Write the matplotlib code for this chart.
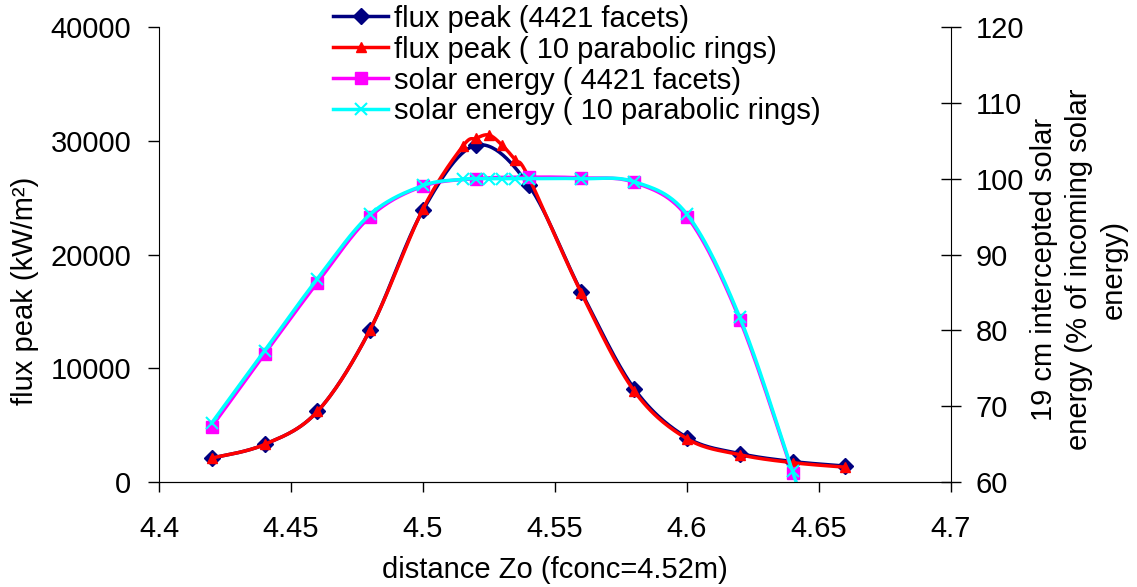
import numpy as np
import matplotlib.pyplot as plt
from matplotlib.lines import Line2D

# flux peak, kW/m2
x_facets = [4.42, 4.44, 4.46, 4.48, 4.50, 4.52, 4.54, 4.56, 4.58, 4.60, 4.62, 4.64, 4.66]
flux_facets = [2100, 3300, 6200, 13400, 23900, 29600, 26100, 16700, 8200, 3900, 2500, 1800, 1400]

x_rings = [4.42, 4.44, 4.46, 4.48, 4.50, 4.515, 4.52, 4.525, 4.53, 4.535, 4.54, 4.56, 4.58, 4.60, 4.62, 4.64, 4.66]
flux_rings = [2100, 3300, 6200, 13400, 24000, 29500, 30200, 30500, 29600, 28300, 26800, 16600, 8000, 3800, 2400, 1700, 1300]

# intercepted solar energy, %
x_sol_facets = [4.42, 4.44, 4.46, 4.48, 4.50, 4.52, 4.54, 4.56, 4.58, 4.60, 4.62, 4.64]
sol_facets = [67.3, 76.9, 86.3, 95.0, 99.0, 100.0, 100.2, 100.1, 99.5, 95.0, 81.4, 61.2]

x_sol_rings = [4.42, 4.44, 4.46, 4.48, 4.50, 4.515, 4.52, 4.525, 4.53, 4.535, 4.54, 4.56, 4.58, 4.60, 4.62, 4.64, 4.66]
sol_rings = [67.8, 77.3, 86.8, 95.3, 99.1, 99.9, 100.0, 100.0, 100.0, 100.0, 100.0, 100.0, 99.6, 95.3, 81.7, 61.4, 40.0]

labels = ['flux peak (4421 facets)', 'flux peak ( 10 parabolic rings)',
          'solar energy ( 4421 facets)', 'solar energy ( 10 parabolic rings)']

XLIM = (4.4, 4.7)
Y1LIM = (0, 40000)
Y2LIM = (60, 120)
W, H = 792, 455  # plot area in pixels


def smooth(x, y, ylim, n=30):
    # Excel-like smoothed line (Catmull-Rom bezier) computed in pixel space
    px = (np.asarray(x) - XLIM[0]) / (XLIM[1] - XLIM[0]) * W
    py = (np.asarray(y) - ylim[0]) / (ylim[1] - ylim[0]) * H
    P = np.column_stack([px, py])
    P = np.vstack([P[0], P, P[-1]])
    out = []
    t = np.linspace(0, 1, n)[:, None]
    for i in range(1, len(P) - 2):
        p0, p3 = P[i], P[i + 1]
        c1 = p0 + (P[i + 1] - P[i - 1]) / 6
        c2 = p3 - (P[i + 2] - P[i]) / 6
        seg = (1 - t) ** 3 * p0 + 3 * (1 - t) ** 2 * t * c1 + 3 * (1 - t) * t ** 2 * c2 + t ** 3 * p3
        out.append(seg)
    out = np.vstack(out)
    sx = out[:, 0] / W * (XLIM[1] - XLIM[0]) + XLIM[0]
    sy = out[:, 1] / H * (ylim[1] - ylim[0]) + ylim[0]
    return sx, sy


plt.rcParams['font.family'] = ['Liberation Sans', 'DejaVu Sans']
FS = 21
fig = plt.figure(figsize=(11.37, 5.87), dpi=100)
ax = fig.add_axes([159 / 1137, 105 / 587, W / 1137, H / 587])
ax2 = ax.twinx()

navy = '#000080'
red = '#ff0000'
mag = '#ff00ff'
cyan = '#00ffff'

sx, sy = smooth(x_facets, flux_facets, Y1LIM)
ax.plot(sx, sy, color=navy, lw=2.5)
ax.plot(x_facets, flux_facets, color=navy, marker='D', ms=8, ls='none')
sx, sy = smooth(x_rings, flux_rings, Y1LIM)
ax.plot(sx, sy, color=red, lw=2.5)
ax.plot(x_rings, flux_rings, color=red, marker='^', ms=6.5, ls='none')

sx, sy = smooth(x_sol_facets, sol_facets, Y2LIM)
ax2.plot(sx, sy, color=mag, lw=2.5)
ax2.plot(x_sol_facets, sol_facets, color=mag, marker='s', ms=9, ls='none')
sx, sy = smooth(x_sol_rings, sol_rings, Y2LIM)
ax2.plot(sx, sy, color=cyan, lw=2.5)
ax2.plot(x_sol_rings[:-1], sol_rings[:-1], color=cyan, marker='x', ms=9, mew=1.5, ls='none')

ax.set_xlim(*XLIM)
ax.set_ylim(*Y1LIM)
ax2.set_ylim(*Y2LIM)
ax.set_xticks([4.4, 4.45, 4.5, 4.55, 4.6, 4.65, 4.7])
ax.set_xticklabels(['4.4', '4.45', '4.5', '4.55', '4.6', '4.65', '4.7'])
ax.set_yticks(np.arange(0, 40001, 10000))
ax2.set_yticks(np.arange(60, 121, 10))

for a in (ax, ax2):
    a.spines['top'].set_visible(False)
ax.spines['right'].set_visible(False)
ax2.spines['left'].set_visible(False)
ax.tick_params(axis='x', labelsize=FS, length=7, width=1, direction='out', pad=17)
ax.tick_params(axis='y', labelsize=FS, length=8, width=1, direction='out', pad=12)
ax2.tick_params(axis='y', labelsize=FS, length=15, width=1, direction='inout', pad=10)

ax.set_xlabel('distance Zo (fconc=4.52m)', fontsize=FS, labelpad=9)
ax.set_ylabel('flux peak (kW/m²)', fontsize=FS)
ax.yaxis.set_label_coords(-0.151, 0.42)
ax2.set_ylabel('19 cm intercepted solar\nenergy (% of incoming solar\nenergy)', fontsize=FS,
               linespacing=1.3)
ax2.yaxis.set_label_coords(1.1, 0.468)

handles = [
    Line2D([], [], color=navy, lw=2.5, marker='D', ms=8),
    Line2D([], [], color=red, lw=2.5, marker='^', ms=6.5),
    Line2D([], [], color=mag, lw=2.5, marker='s', ms=9),
    Line2D([], [], color=cyan, lw=2.5, marker='x', ms=9, mew=1.5),
]
fig.legend(handles=handles, labels=labels, loc='upper left', bbox_to_anchor=(333 / 1137, 0.992),
           frameon=False, fontsize=FS, handlelength=1.9, handletextpad=0.2,
           labelspacing=0.1, borderaxespad=0, borderpad=0)

fig.savefig('out.png', dpi=100)
